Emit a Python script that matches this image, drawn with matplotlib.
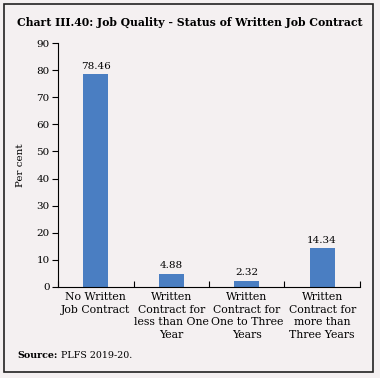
import matplotlib.pyplot as plt
from matplotlib.patches import Rectangle

categories = ["No Written\nJob Contract", "Written\nContract for\nless than One\nYear",
              "Written\nContract for\nOne to Three\nYears", "Written\nContract for\nmore than\nThree Years"]
values = [78.46, 4.88, 2.32, 14.34]
yticks = [0, 10, 20, 30, 40, 50, 60, 70, 80, 90]

bg = "#f4f0f1"
bar_color = "#4a7ec2"
plt.rcParams['font.family'] = ['DejaVu Serif']

fig = plt.figure(figsize=(3.8, 3.78), dpi=100, facecolor=bg)
ax = fig.add_axes([0.153, 0.241, 0.794, 0.645], facecolor=bg)

x = range(len(values))
ax.bar(x, values, width=0.33, color=bar_color)
for i, v in enumerate(values):
    ax.text(i, v + 1.2, f"{v:.2f}", ha='center', va='bottom', fontsize=7.5)

ax.set_xlim(-0.5, len(values) - 0.5)
ax.set_ylim(0, 90)
ax.set_yticks(yticks)
ax.tick_params(axis='y', labelsize=7.5, length=4, width=0.8, direction='out', pad=2)
ax.set_xticks([i + 0.5 for i in range(-1, len(values))])
ax.set_xticklabels([])
ax.tick_params(axis='x', length=4, width=0.8, direction='in')
ax.set_xticks(list(x), minor=True)
ax.set_xticklabels(categories, minor=True, fontsize=7.8, linespacing=1.3)
ax.tick_params(axis='x', which='minor', length=0, pad=4)
for s in ['top', 'right']:
    ax.spines[s].set_visible(False)
ax.spines['left'].set_linewidth(0.8)
ax.spines['bottom'].set_linewidth(0.8)
ax.set_ylabel("Per cent", fontsize=7.5, labelpad=8)

fig.text(0.045, 0.942, "Chart III.40: Job Quality - Status of Written Job Contract",
         fontsize=7.8, fontweight='bold', va='center')
fig.text(0.045, 0.06, "Source:", fontsize=6.8, fontweight='bold', va='center')
fig.text(0.16, 0.06, "PLFS 2019-20.", fontsize=6.8, va='center')

fig.patches.append(Rectangle((0.011, 0.016), 0.971, 0.973, transform=fig.transFigure,
                             fill=False, edgecolor='#222222', linewidth=1.2))

fig.savefig("out.png", dpi=100, facecolor=bg)
